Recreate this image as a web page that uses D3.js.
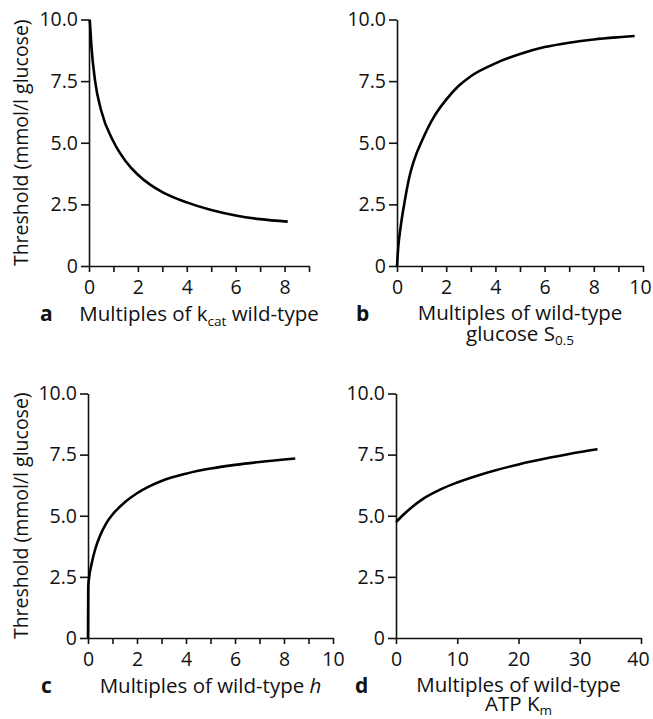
<!DOCTYPE html>
<html>
<head>
<meta charset="utf-8">
<script src="https://cdn.jsdelivr.net/npm/d3@7"></script>
<style>
  body { margin: 0; background: #fff; }
  svg text { font-family: "Open Sans", sans-serif; fill: #111; }
</style>
</head>
<body>
<svg id="canvas" width="653" height="719"></svg>
<script>
// panel a: multiples of kcat
let kcatX = [0.03, 0.1, 0.25, 0.5, 1.0, 1.5, 2.0, 2.5, 3.0, 4.0, 5.0, 6.0, 7.0, 8.13]
let kcatY = [10.0, 8.9, 7.5, 6.3, 5.05, 4.25, 3.7, 3.3, 3.0, 2.58, 2.27, 2.05, 1.9, 1.8]
// panel b: multiples of glucose S0.5
let s05X = [0, 0.05, 0.15, 0.3, 0.5, 0.75, 1.0, 1.5, 2.0, 2.5, 3.0, 4.0, 5.0, 6.0, 7.0, 8.0, 9.0, 9.66]
let s05Y = [0, 0.75, 1.6, 2.55, 3.6, 4.45, 5.05, 6.05, 6.75, 7.3, 7.7, 8.22, 8.6, 8.88, 9.06, 9.19, 9.28, 9.33]
// panel c: multiples of h
let hX = [0, 0.01, 0.05, 0.15, 0.3, 0.5, 0.75, 1.0, 1.5, 2.0, 2.5, 3.0, 4.0, 5.0, 6.0, 7.0, 8.46]
let hY = [0, 2.1, 2.5, 3.05, 3.65, 4.2, 4.7, 5.05, 5.55, 5.92, 6.2, 6.42, 6.72, 6.93, 7.08, 7.2, 7.34]
// panel d: multiples of ATP Km
let atpX = [0, 1.2, 2.83, 4.47, 7.2, 10, 14.3, 20, 25.2, 30.1, 32.9]
let atpY = [4.74, 5.04, 5.4, 5.7, 6.07, 6.36, 6.72, 7.1, 7.38, 7.61, 7.72]

let yTicks = [0, 2.5, 5, 7.5, 10]
let xTicks9 = d3.range(0, 10)
let xTicks10 = d3.range(0, 11)
let xTicks40 = [0, 10, 20, 30, 40]

let panels = [
  { letter: 'a', xs: kcatX, ys: kcatY, xMax: 9, ticks: xTicks9, every: 2, letterX: 40,
    left: 89, right: 309, top: 19.5, bottom: 266, yLabel: true },
  { letter: 'b', xs: s05X, ys: s05Y, xMax: 10, ticks: xTicks10, every: 2, letterX: 356,
    left: 397, right: 643, top: 19.5, bottom: 266, yLabel: false },
  { letter: 'c', xs: hX, ys: hY, xMax: 10, ticks: xTicks10, every: 2, letterX: 41,
    left: 88, right: 333, top: 393.5, bottom: 638, yLabel: true },
  { letter: 'd', xs: atpX, ys: atpY, xMax: 40, ticks: xTicks40, every: 10, letterX: 355,
    left: 396, right: 641, top: 393.5, bottom: 638, yLabel: false }
]

let canvas = d3.select('#canvas')

let drawPanel = (p) => {
  let x = d3.scaleLinear().domain([0, p.xMax]).range([p.left, p.right])
  let y = d3.scaleLinear().domain([0, 10]).range([p.bottom, p.top])
  let g = canvas.append('g')

  g.append('g')
    .attr('transform', 'translate(' + p.left + ',0)')
    .call(d3.axisLeft(y).tickValues(yTicks).tickSize(8).tickSizeOuter(0).tickPadding(3)
      .tickFormat(d => d === 0 ? '0' : d.toFixed(1)))

  let xAxis = g.append('g')
    .attr('transform', 'translate(0,' + p.bottom + ')')
    .call(d3.axisBottom(x).tickValues(p.ticks).tickSize(6).tickSizeOuter(0).tickPadding(8)
      .tickFormat(d => d % p.every === 0 ? d : ''))

  g.selectAll('.domain, .tick line').attr('stroke', '#111').attr('stroke-width', 1.6)
  g.selectAll('.tick text').attr('font-size', 19.5).attr('font-family', '"Open Sans", sans-serif').attr('fill', '#111')

  // keep the last label inside the page edge
  if (p.right > 640) {
    xAxis.selectAll('.tick text').filter(d => d === p.xMax).attr('dx', -3)
  }

  let points = p.xs.map((v, i) => [v, p.ys[i]])
  g.append('path')
    .datum(points)
    .attr('fill', 'none')
    .attr('stroke', '#000')
    .attr('stroke-width', 2.6)
    .attr('stroke-linejoin', 'round')
    .attr('d', d3.line().x(d => x(d[0])).y(d => y(d[1])).curve(d3.curveMonotoneX))

  // panel letter
  g.append('text')
    .attr('x', p.letterX)
    .attr('y', p.bottom + 55)
    .attr('font-size', 21)
    .attr('font-weight', 'bold')
    .text(p.letter)

  if (p.yLabel) {
    g.append('text')
      .attr('transform', 'translate(20,' + ((p.top + p.bottom) / 2) + ') rotate(-90)')
      .attr('text-anchor', 'middle')
      .attr('dominant-baseline', 'central')
      .attr('font-size', 19.5)
      .text('Threshold (mmol/l glucose)')
  }
  return { g: g, cx: (p.left + p.right) / 2, base: p.bottom }
}

let pa = drawPanel(panels[0])
let pb = drawPanel(panels[1])
let pc = drawPanel(panels[2])
let pd = drawPanel(panels[3])

// x-axis titles
let title = (panel, dy) => panel.g.append('text')
  .attr('x', panel.cx)
  .attr('y', panel.base + dy)
  .attr('text-anchor', 'middle')
  .attr('font-size', 20.5)

let ta = title(pa, 55)
ta.append('tspan').text('Multiples of k')
ta.append('tspan').attr('font-size', 13.5).attr('dy', 5).text('cat')
ta.append('tspan').attr('dy', -5).text(' wild-type')

title(pb, 54).text('Multiples of wild-type')
let tb = title(pb, 75)
tb.append('tspan').text('glucose S')
tb.append('tspan').attr('font-size', 13.5).attr('dy', 4).text('0.5')

let tc = title(pc, 55)
tc.append('tspan').text('Multiples of wild-type ')
tc.append('tspan').attr('font-style', 'italic').text('h')

title(pd, 54).text('Multiples of wild-type')
let td = title(pd, 73)
td.append('tspan').text('ATP K')
td.append('tspan').attr('font-size', 13.5).attr('dy', 4).text('m')
</script>
</body>
</html>
